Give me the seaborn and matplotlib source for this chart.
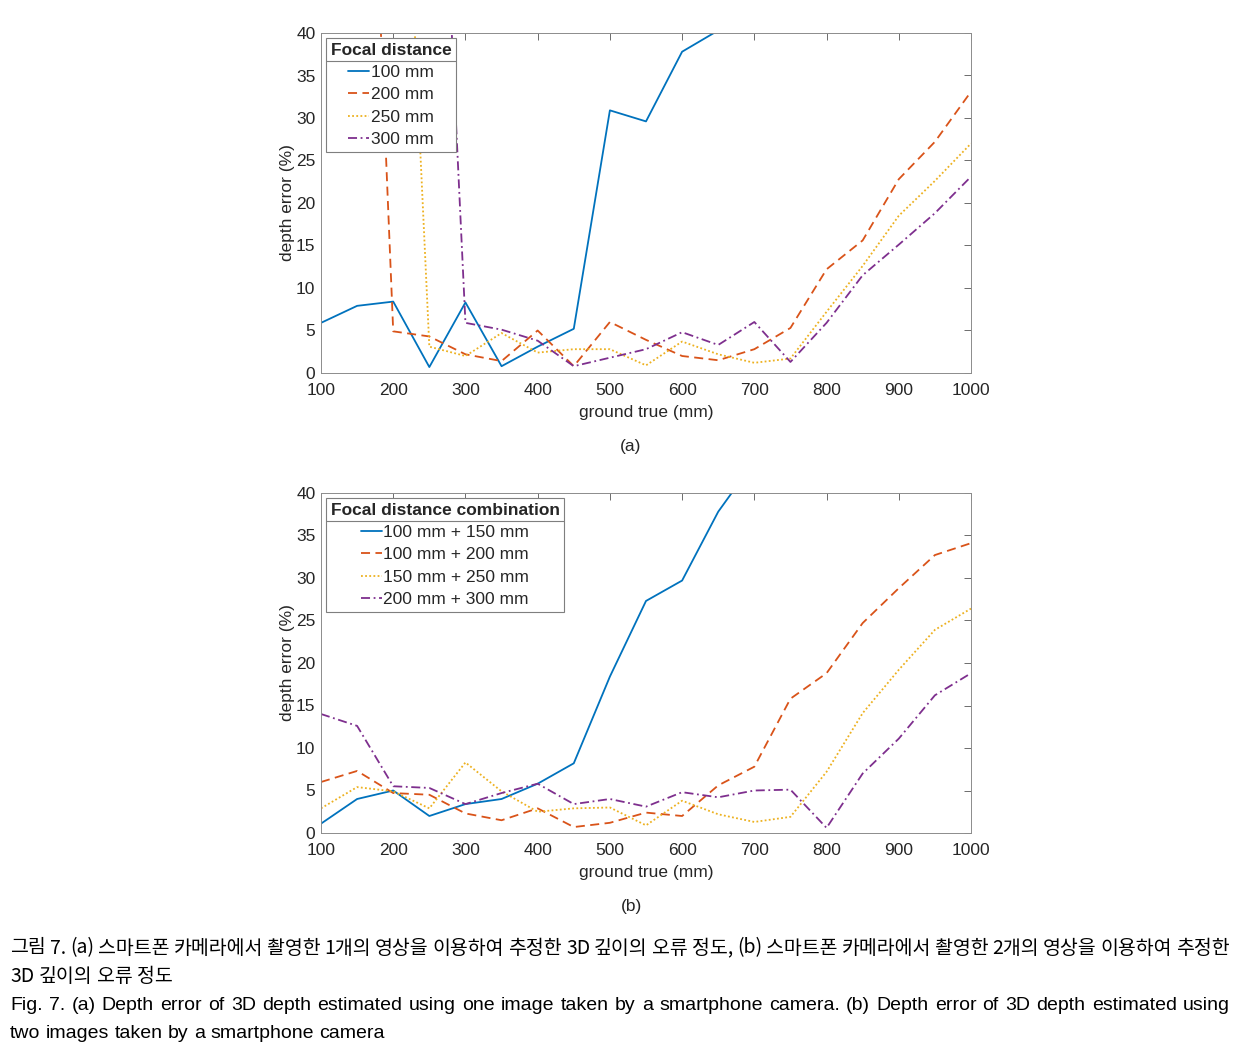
import numpy as np
import pandas as pd
import matplotlib
matplotlib.use("Agg")
import matplotlib.pyplot as plt
import seaborn as sns
from matplotlib.lines import Line2D

# ---------------- data ----------------
x_mm = [100, 150, 200, 250, 300, 350, 400, 450, 500, 550, 600, 650, 700, 750, 800, 850, 900, 950, 1000]

a_labels = ["100 mm", "200 mm", "250 mm", "300 mm"]
a_100 = [5.9, 7.9, 8.4, 0.7, 8.3, 0.8, 3.1, 5.2, 30.9, 29.6, 37.8, 40.3, np.nan, np.nan, np.nan, np.nan, np.nan, np.nan, np.nan]
a_200 = [115, 108, 4.9, 4.3, 2.2, 1.4, 5.0, 0.8, 6.0, 3.9, 2.0, 1.5, 2.8, 5.3, 12.2, 15.6, 22.8, 27.2, 33.1]
a_250 = [120, 110, 95, 3.1, 2.0, 4.7, 2.4, 2.8, 2.8, 0.9, 3.7, 2.2, 1.2, 1.7, 7.2, 12.6, 18.5, 22.6, 27.0]
a_300 = [130, 120, 110, 96, 5.9, 5.1, 3.8, 0.8, 1.8, 2.8, 4.8, 3.3, 6.0, 1.3, 5.9, 11.5, 15.1, 18.8, 23.1]

b_labels = ["100 mm + 150 mm", "100 mm + 200 mm", "150 mm + 250 mm", "200 mm + 300 mm"]
b_100_150 = [1.1, 4.0, 5.0, 2.0, 3.4, 4.0, 5.8, 8.2, 18.4, 27.3, 29.7, 37.8, 43.7, np.nan, np.nan, np.nan, np.nan, np.nan, np.nan]
b_100_200 = [6.0, 7.3, 4.7, 4.5, 2.3, 1.5, 2.9, 0.7, 1.2, 2.4, 2.0, 5.6, 7.8, 15.8, 18.8, 24.7, 28.8, 32.7, 34.1]
b_150_250 = [2.9, 5.4, 4.9, 2.9, 8.3, 4.9, 2.5, 2.9, 3.0, 0.9, 3.8, 2.2, 1.3, 1.9, 7.2, 14.1, 19.2, 23.9, 26.4]
b_200_300 = [14.0, 12.6, 5.5, 5.3, 3.4, 4.7, 5.8, 3.4, 4.0, 3.1, 4.8, 4.2, 5.0, 5.1, 0.6, 7.0, 11.1, 16.2, 18.8]

x_ticks = [100, 200, 300, 400, 500, 600, 700, 800, 900, 1000]
y_ticks = [0, 5, 10, 15, 20, 25, 30, 35, 40]

caption_ko = ["그림 7. (a) 스마트폰 카메라에서 촬영한 1개의 영상을 이용하여 추정한 3D 깊이의 오류 정도, (b) 스마트폰 카메라에서 촬영한 2개의 영상을 이용하여 추정한",
              "3D 깊이의 오류 정도"]
caption_en = ["Fig. 7. (a) Depth error of 3D depth estimated using one image taken by a smartphone camera. (b) Depth error of 3D depth estimated using",
              "two images taken by a smartphone camera"]

# ---------------- style ----------------
sns.set_style("white")
plt.rcParams['font.family'] = ['Liberation Sans', 'DejaVu Sans']
colors = ["#0072BD", "#D95319", "#EDB120", "#7E2F8E"]
styles = ["-", (0, (5, 3)), (0, (1, 1.3)), (0, (5, 2, 1, 2))]
DARK = "#262626"

W, H = 1241, 1058
fig = plt.figure(figsize=(W / 100, H / 100), dpi=100)

def px_axes(left, top, right, bottom):
    return fig.add_axes([left / W, 1 - bottom / H, (right - left) / W, (bottom - top) / H])

ax_a = px_axes(321, 33, 971, 373)
ax_b = px_axes(321, 493, 971, 833)

def draw(ax, series, labels, title):
    for vals, lab, c, ls in zip(series, labels, colors, styles):
        df = pd.DataFrame({"x": x_mm, "y": vals})
        sns.lineplot(data=df, x="x", y="y", ax=ax, color=c, linestyle=ls,
                     linewidth=1.3, label=lab, estimator=None, sort=False)
    ax.set_xlim(100, 1000)
    ax.set_ylim(0, 40)
    ax.set_xticks(x_ticks)
    ax.set_yticks(y_ticks)
    ax.tick_params(direction="in", length=5, width=0.6, colors="#555555",
                   labelcolor=DARK, labelsize=12.5, top=True, right=True)
    ax.tick_params(axis="x", pad=7)
    ax.tick_params(axis="y", pad=4)
    for s in ax.spines.values():
        s.set_visible(True)
        s.set_color("#8c8c8c")
        s.set_linewidth(0.7)
    ax.set_xlabel("ground true (mm)", fontsize=12.5, color=DARK, labelpad=5)
    ax.set_ylabel("depth error (%)", fontsize=12.5, color=DARK, labelpad=1)
    leg = ax.legend(title=title, loc="upper left", fontsize=12.5,
                    title_fontproperties={"weight": "bold", "size": 12.5},
                    frameon=True, fancybox=False, framealpha=1,
                    edgecolor="#7f7f7f", borderaxespad=0.3, handlelength=1.2,
                    handletextpad=0.1, labelspacing=0.42, borderpad=0.25)
    leg.get_frame().set_linewidth(0.8)
    return leg

leg_a = draw(ax_a, [a_100, a_200, a_250, a_300], a_labels, "Focal distance")
leg_b = draw(ax_b, [b_100_150, b_100_200, b_150_250, b_200_300], b_labels, "Focal distance combination")

fig.text(631 / W, 1 - 446 / H, "(a)", ha="center", va="center", fontsize=12.5, color=DARK)
fig.text(631 / W, 1 - 906 / H, "(b)", ha="center", va="center", fontsize=12.5, color=DARK)

fig.canvas.draw()
renderer = fig.canvas.get_renderer()

# legend title separator line
for leg in (leg_a, leg_b):
    lb = leg.get_window_extent(renderer)
    tb = leg.get_title().get_window_extent(renderer)
    y = tb.y0 - 3
    fig.add_artist(Line2D([lb.x0 / W, lb.x1 / W], [y / H, y / H],
                          transform=fig.transFigure, color="#7f7f7f", lw=0.8))

def measure(s, family, size):
    t = fig.text(0, 0, s, fontsize=size, family=family)
    w = t.get_window_extent(renderer).width
    t.remove()
    return w

# justified caption lines
def place_line(text, y_px, family, size, justify, x0=10, x1=1230):
    words = text.split(" ")
    arts = [fig.text(0, 0, w, fontsize=size, family=family, color="black",
                     ha="left", va="center") for w in words]
    widths = [a.get_window_extent(renderer).width for a in arts]
    space = measure("a a", family, size) - measure("aa", family, size)
    if justify and len(words) > 1:
        gap = (x1 - x0 - sum(widths)) / (len(words) - 1)
    else:
        gap = space
    x = x0
    for a, w in zip(arts, widths):
        a.set_position((x / W, 1 - y_px / H))
        x += w + gap

KO = ["Noto Sans CJK KR", "DejaVu Sans"]
EN = ["Liberation Sans", "DejaVu Sans"]
place_line(caption_ko[0], 948, KO, 14, True)
place_line(caption_ko[1], 977, KO, 14, False)
place_line(caption_en[0], 1006, EN, 14, True)
place_line(caption_en[1], 1034, EN, 14, False)

fig.savefig("out.png", dpi=100)
